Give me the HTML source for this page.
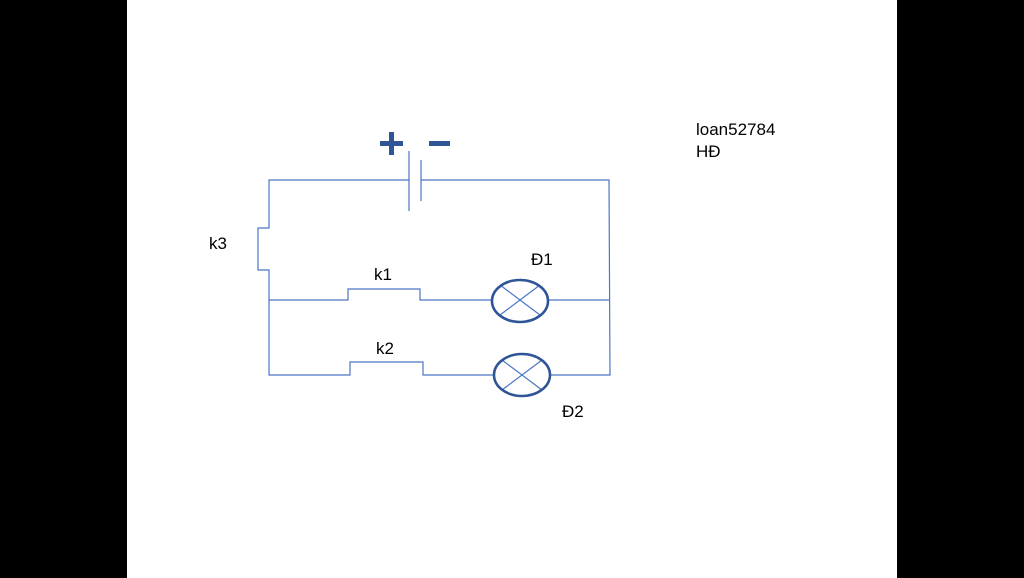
<!DOCTYPE html>
<html><head><meta charset="utf-8"><style>
html,body{margin:0;padding:0;background:#000;}
.s{position:relative;width:1024px;height:578px;background:#000;overflow:hidden;}
.w{position:absolute;left:127px;top:0;width:770px;height:578px;background:#fff;}
svg{position:absolute;left:0;top:0;}
text{font-family:"Liberation Sans","DejaVu Sans",sans-serif;font-size:17px;fill:#000;}
</style></head><body><div class="s"><div class="w"></div>
<svg width="1024" height="578" viewBox="0 0 1024 578">
<g fill="none" stroke="#4a76c4" stroke-width="1.2">
<polyline points="409,180 269,180 269,228 258,228 258,270 269,270 269,375 350,375 350,362 423,362 423,375 494,375"/>
<polyline points="421,180 609,180 610,375 550,375"/>
<polyline points="269,300 348,300 348,289 420,289 420,300 492,300"/>
<line x1="548" y1="300" x2="609" y2="300"/>
<line x1="409" y1="151" x2="409" y2="211"/>
<line x1="421" y1="160" x2="421" y2="201"/>
<line x1="500" y1="285" x2="540" y2="315"/>
<line x1="500" y1="315" x2="540" y2="285"/>
<line x1="502" y1="360" x2="542" y2="390"/>
<line x1="502" y1="390" x2="542" y2="360"/>
</g>
<g fill="none" stroke="#2f5597" stroke-width="2.6">
<ellipse cx="520" cy="301" rx="28" ry="21"/>
<ellipse cx="522" cy="375" rx="28" ry="21"/>
</g>
<g fill="#2f5597">
<rect x="380" y="141" width="23" height="5"/>
<rect x="389" y="132" width="5" height="23"/>
<rect x="429" y="141" width="21" height="5"/>
</g>
<text x="209" y="249">k3</text>
<text x="374" y="280">k1</text>
<text x="376" y="354">k2</text>
<text x="531" y="265">Đ1</text>
<text x="562" y="417">Đ2</text>
<text x="696" y="135">loan52784</text>
<text x="696" y="157">HĐ</text>
</svg></div></body></html>
